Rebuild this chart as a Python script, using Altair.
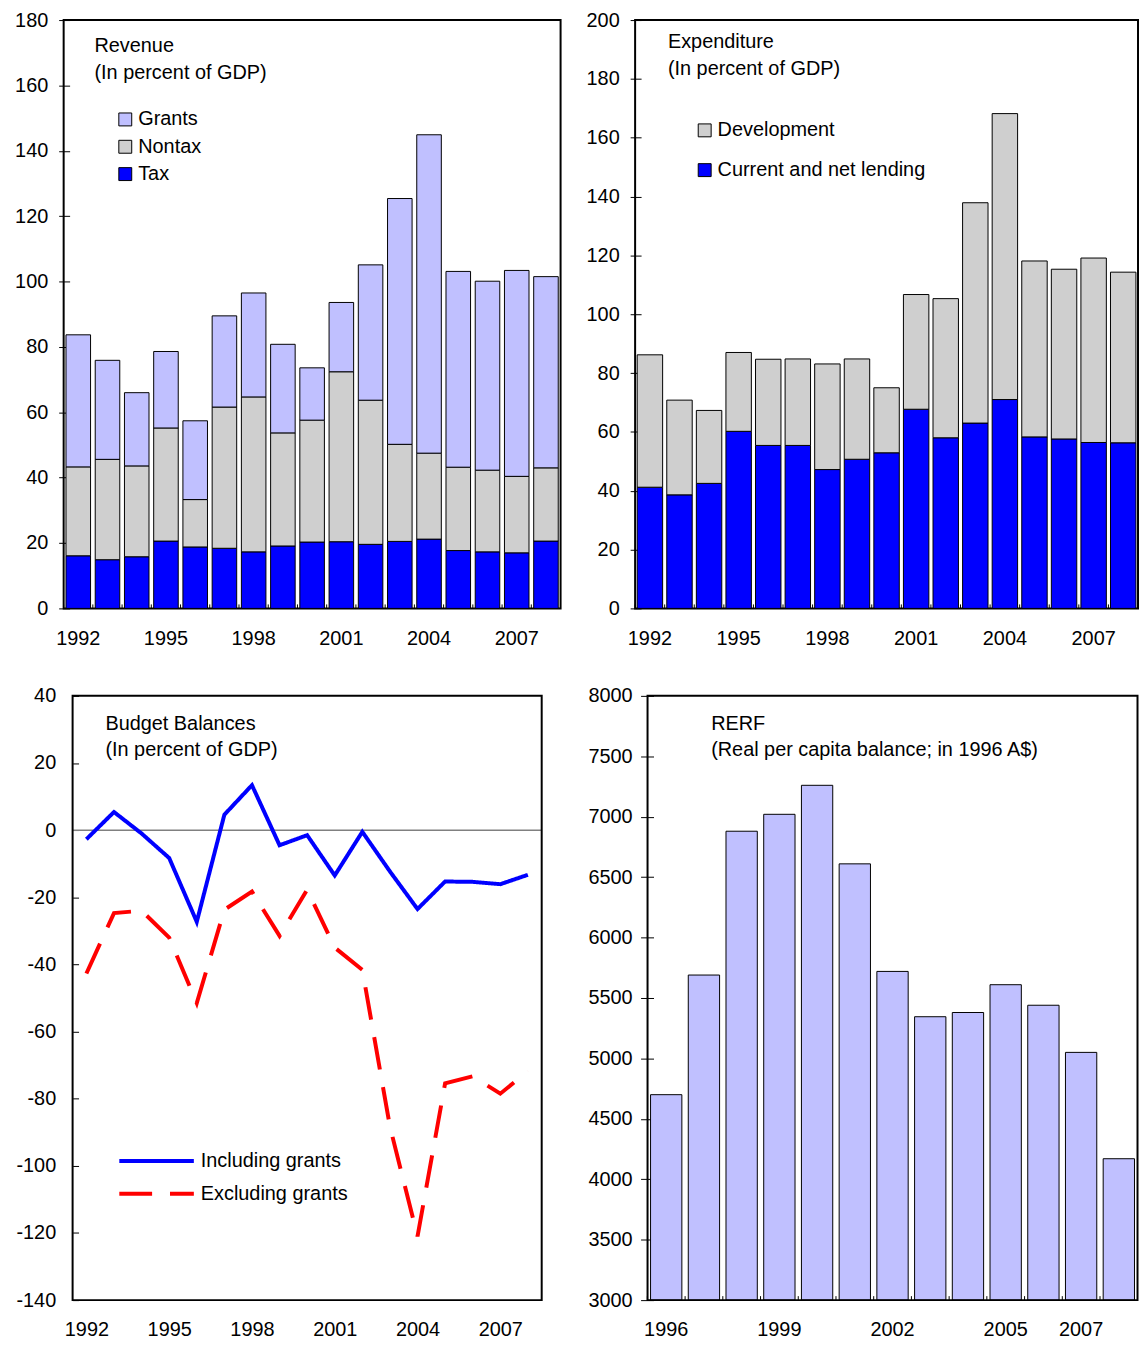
import altair as alt
import pandas as pd

# ---------------- data ----------------
years = list(range(1992, 2009))

rev_tax = [16.1, 14.9, 15.8, 20.6, 18.8, 18.4, 17.3, 19.1, 20.3, 20.4, 19.6, 20.5, 21.2, 17.7, 17.3, 17.0, 20.6]
rev_nontax = [27.2, 30.7, 27.8, 34.6, 14.5, 43.2, 47.4, 34.6, 37.3, 52.0, 44.1, 29.7, 26.3, 25.5, 25.0, 23.4, 22.4]
rev_grants = [40.4, 30.3, 22.4, 23.4, 24.1, 27.9, 31.8, 27.1, 16.0, 21.2, 41.4, 75.2, 97.4, 59.9, 57.8, 63.0, 58.5]

exp_current = [41.2, 38.6, 42.5, 60.2, 55.4, 55.4, 47.2, 50.7, 52.9, 67.7, 58.0, 63.0, 71.0, 58.3, 57.6, 56.4, 56.3]
exp_dev = [45.0, 32.2, 24.8, 26.8, 29.3, 29.4, 35.9, 34.1, 22.1, 39.0, 47.3, 74.9, 97.2, 59.8, 57.7, 62.7, 58.0]

bal_incl = [-2.7, 5.4, -1.0, -8.3, -27.3, 4.6, 13.4, -4.5, -1.5, -13.5, -0.5, -12.3, -23.5, -15.3, -15.4, -16.1, -13.3]
bal_excl = [-42.7, -24.7, -24.0, -32.0, -51.5, -23.7, -18.3, -31.5, -17.7, -35.0, -41.6, -88.3, -121.0, -75.4, -73.3, -78.5, -71.8]

rerf_years = list(range(1996, 2009))
rerf_vals = [4700, 5690, 6880, 7020, 7260, 6610, 5720, 5345, 5380, 5610, 5440, 5050, 4170]

year_labels = [1992, 1995, 1998, 2001, 2004, 2007]
rerf_labels = [1996, 1999, 2002, 2005, 2007]

rev_comps = ["Grants", "Nontax", "Tax"]
exp_comps = ["Development", "Current and net lending"]
bal_series = ["Including grants", "Excluding grants"]

# ---------------- styling ----------------
FONT = "Liberation Sans"
FS = 20
BLUE = "#0000FF"
GRANT = "#C0C0FF"
HATCH = "#CFCFCF"
RED = "#FF0000"

rev_df = pd.DataFrame({
    "year": years * 3,
    "comp": ["Tax"] * 17 + ["Nontax"] * 17 + ["Grants"] * 17,
    "value": rev_tax + rev_nontax + rev_grants,
    "ord": [0] * 17 + [1] * 17 + [2] * 17,
})
exp_df = pd.DataFrame({
    "year": years * 2,
    "comp": ["Current and net lending"] * 17 + ["Development"] * 17,
    "value": exp_current + exp_dev,
    "ord": [0] * 17 + [1] * 17,
})
bal_df = pd.DataFrame({
    "year": years * 2,
    "series": ["Including grants"] * 17 + ["Excluding grants"] * 17,
    "value": bal_incl + bal_excl,
})
rerf_df = pd.DataFrame({"year": rerf_years, "value": rerf_vals})
yr_df = pd.DataFrame({"year": years})
ryr_df = pd.DataFrame({"year": rerf_years})
one = pd.DataFrame({"k": [0]})


def y_axis(values, offset, tick, pad, fmt=None, expr=None):
    kw = dict(values=values, domain=False, grid=False, ticks=True, tickSize=tick,
              tickColor="black", tickWidth=1, offset=offset, labelPadding=pad,
              labelFontSize=FS, labelFont=FONT, labelColor="black", title=None)
    if fmt:
        kw["format"] = fmt
    if expr:
        kw["labelExpr"] = expr
    return alt.Axis(**kw)


def x_axis(values):
    return alt.Axis(values=values, labelAngle=0, domain=False, grid=False, ticks=False,
                    tickSize=0, labelPadding=30, labelBaseline="middle",
                    labelFontSize=FS, labelFont=FONT, labelColor="black", title=None)


def label_text(lines, x, y):
    # one single-line text mark per line; y is the baseline of the first line
    return [alt.Chart(one).mark_text(text=t, align="left", baseline="alphabetic",
                                     fontSize=FS, font=FONT, color="black")
            .encode(x=alt.value(x), y=alt.value(y + 27 * i)) for i, t in enumerate(lines)]


def frame(x0, x1, h):
    return alt.Chart(one).mark_rect(filled=False, color="black", strokeWidth=2).encode(
        x=alt.value(x0), x2=alt.value(x1), y=alt.value(0), y2=alt.value(h))


def bar_legend(x, y, rowpad):
    return alt.Legend(title=None, orient="none", legendX=x, legendY=y, symbolType="square",
                      symbolSize=169, symbolStrokeColor="black", symbolStrokeWidth=1,
                      symbolOpacity=1, labelFontSize=FS, labelFont=FONT, labelColor="black",
                      labelOffset=3, rowPadding=rowpad, padding=0, labelLimit=400)


NOVIEW = alt.ViewBackground(strokeOpacity=0, strokeWidth=0)

# ---------------- panel 1: revenue ----------------
W1, H1 = 500, 592
xs1 = alt.Scale(paddingInner=0.16, paddingOuter=0.08)
xa1 = x_axis(year_labels)
rev_bars = alt.Chart(rev_df).mark_bar(stroke="black", strokeWidth=1).encode(
    x=alt.X("year:O", scale=xs1, axis=xa1),
    y=alt.Y("value:Q", stack="zero", scale=alt.Scale(domain=[0, 180], nice=False),
            axis=y_axis(list(range(0, 181, 20)), -6, 11, 11)),
    color=alt.Color("comp:N", scale=alt.Scale(domain=rev_comps, range=[GRANT, HATCH, BLUE]),
                    legend=bar_legend(52, 90, 7.5)),
    order=alt.Order("ord:Q"),
)
rev_ticks = alt.Chart(yr_df).mark_rule(color="black", strokeWidth=1, xOffset=-2.4).encode(
    x=alt.X("year:O", scale=xs1, axis=xa1, bandPosition=0),
    y=alt.value(H1), y2=alt.value(H1 - 4),
)
rev = alt.layer(rev_bars, rev_ticks, *label_text(["Revenue", "(In percent of GDP)"], 31, 32)).properties(width=W1, height=H1)

# ---------------- panel 2: expenditure ----------------
W2, H2 = 506, 592
xs2 = alt.Scale(paddingInner=0.14, paddingOuter=0.07)
xa2 = x_axis(year_labels)
exp_bars = alt.Chart(exp_df).mark_bar(stroke="black", strokeWidth=1).encode(
    x=alt.X("year:O", scale=xs2, axis=xa2),
    y=alt.Y("value:Q", stack="zero", scale=alt.Scale(domain=[0, 200], nice=False),
            axis=y_axis(list(range(0, 201, 20)), -6, 11, 11)),
    color=alt.Color("comp:N", scale=alt.Scale(domain=exp_comps, range=[HATCH, BLUE]),
                    legend=bar_legend(60, 101, 20)),
    order=alt.Order("ord:Q"),
)
exp_ticks = alt.Chart(yr_df).mark_rule(color="black", strokeWidth=1, xOffset=-2.1).encode(
    x=alt.X("year:O", scale=xs2, axis=xa2, bandPosition=0),
    y=alt.value(H2), y2=alt.value(H2 - 4),
)
exp = alt.layer(exp_bars, exp_ticks, *label_text(["Expenditure", "(In percent of GDP)"], 33, 28)).properties(width=W2, height=H2)

# ---------------- panel 3: budget balances (plot area starts 9px into its cell) ----------------
L3, W3, H3 = 9, 472, 608
line_legend = alt.Legend(title=None, orient="none", legendX=74.5 + L3, legendY=458, symbolType="M-5,0L5,0",
                         symbolSize=225, symbolStrokeWidth=4, labelFontSize=FS, labelFont=FONT,
                         labelColor="black", labelOffset=34.5, rowPadding=13, padding=0, labelLimit=400)
zero = alt.Chart(one).mark_rule(color="#808080", strokeWidth=1.5).encode(
    y=alt.datum(0), x=alt.value(L3), x2=alt.value(L3 + W3))
lines = alt.Chart(bal_df).mark_line(strokeWidth=4).encode(
    x=alt.X("year:O", scale=alt.Scale(type="point", padding=0.5, range=[L3, L3 + W3]),
            axis=x_axis(year_labels)),
    y=alt.Y("value:Q", scale=alt.Scale(domain=[-140, 40], nice=False),
            axis=y_axis(list(range(-140, 41, 20)), -(L3 + 6), 6, 17, expr="'' + datum.value")),
    color=alt.Color("series:N", scale=alt.Scale(domain=bal_series, range=[BLUE, RED]), legend=line_legend),
    strokeDash=alt.StrokeDash("series:N", scale=alt.Scale(domain=bal_series, range=[[1, 0], [33, 18]]),
                              legend=line_legend),
)
bud = alt.layer(zero, lines, frame(L3, L3 + W3, H3),
                *label_text(["Budget Balances", "(In percent of GDP)"], L3 + 33, 34)).properties(
    width=L3 + W3, height=H3, view=NOVIEW)

# ---------------- panel 4: RERF (plot area starts 12.5px into its cell) ----------------
L4, W4, H4 = 12.5, 493, 608
xs4 = alt.Scale(paddingInner=0.17, paddingOuter=0.08, range=[L4, L4 + W4])
xa4 = x_axis(rerf_labels)
rerf_bars = alt.Chart(rerf_df).mark_bar(stroke="black", strokeWidth=1, color=GRANT).encode(
    x=alt.X("year:O", scale=xs4, axis=xa4),
    y=alt.Y("value:Q", scale=alt.Scale(domain=[3000, 8000], nice=False, zero=False),
            axis=y_axis(list(range(3000, 8001, 500)), -(L4 + 6), 13, 8.5, fmt="d")),
    y2=alt.datum(3000),
)
rerf_ticks = alt.Chart(ryr_df).mark_rule(color="black", strokeWidth=1, xOffset=-3.2).encode(
    x=alt.X("year:O", scale=xs4, axis=xa4, bandPosition=0),
    y=alt.value(H4), y2=alt.value(H4 - 4),
)
rerf = alt.layer(rerf_bars, rerf_ticks, frame(L4, L4 + W4, H4),
                 *label_text(["RERF", "(Real per capita balance; in 1996 A$)"], L4 + 64, 34)).properties(
    width=L4 + W4, height=H4, view=NOVIEW)

chart = alt.concat(rev, exp, bud, rerf, columns=2, bounds="flush",
                   spacing={"row": 88, "column": 75}).resolve_scale(
    color="independent", strokeDash="independent"
).properties(
    padding={"left": 5, "top": -3, "right": 0, "bottom": -3}
).configure(font=FONT).configure_view(stroke="black", strokeWidth=2)

chart.save("out.html", embed_options={"renderer": "svg", "actions": False})
